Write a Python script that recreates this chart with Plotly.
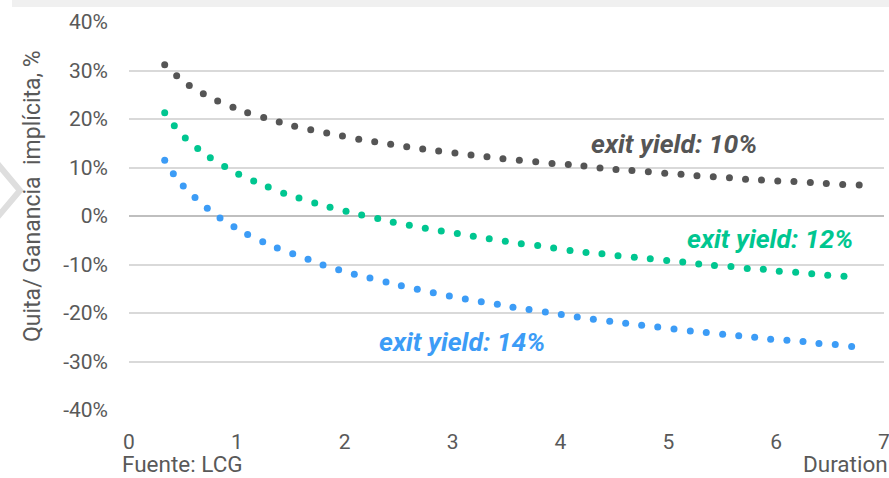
import plotly.graph_objects as go

# ---- data (duration in years, implicit gain/loss in %) ----
dur_10 = [0.331, 0.442, 0.559, 0.689, 0.822, 0.964, 1.100, 1.249, 1.393, 1.536, 1.685, 1.833, 1.979,
          2.130, 2.278, 2.426, 2.575, 2.723, 2.871, 3.022, 3.171, 3.319, 3.467, 3.619, 3.771, 3.922,
          4.073, 4.218, 4.367, 4.515, 4.663, 4.815, 4.967, 5.118, 5.266, 5.417, 5.567, 5.716, 5.864,
          6.015, 6.165, 6.317, 6.465, 6.617, 6.770]
gain_10 = [31.2, 28.9, 26.9, 25.2, 23.7, 22.4, 21.3, 20.3, 19.4, 18.5, 17.8, 17.1, 16.5, 15.8, 15.3,
           14.8, 14.3, 13.8, 13.4, 13.0, 12.6, 12.2, 11.8, 11.5, 11.2, 10.8, 10.6, 10.3, 9.9, 9.6,
           9.4, 9.1, 8.8, 8.6, 8.3, 8.1, 7.9, 7.6, 7.4, 7.2, 7.1, 6.9, 6.7, 6.5, 6.4]

dur_12 = [0.331, 0.420, 0.522, 0.637, 0.754, 0.887, 1.017, 1.156, 1.291, 1.434, 1.576, 1.722, 1.864,
          2.012, 2.157, 2.306, 2.450, 2.599, 2.747, 2.895, 3.044, 3.192, 3.340, 3.489, 3.637, 3.789,
          3.937, 4.089, 4.237, 4.385, 4.534, 4.685, 4.833, 4.985, 5.134, 5.282, 5.428, 5.581, 5.732,
          5.881, 6.029, 6.181, 6.330, 6.478, 6.629]
gain_12 = [21.3, 18.6, 16.1, 13.9, 12.0, 10.2, 8.6, 7.2, 6.0, 4.7, 3.7, 2.7, 1.8, 1.0, 0.2, -0.5,
           -1.3, -1.9, -2.5, -3.1, -3.6, -4.2, -4.7, -5.2, -5.7, -6.1, -6.6, -7.1, -7.5, -7.8, -8.2,
           -8.5, -8.8, -9.2, -9.5, -9.9, -10.2, -10.4, -10.8, -11.0, -11.4, -11.6, -11.9, -12.2, -12.4]

dur_14 = [0.331, 0.411, 0.503, 0.612, 0.726, 0.844, 0.973, 1.100, 1.240, 1.375, 1.518, 1.660, 1.799,
          1.944, 2.089, 2.234, 2.383, 2.525, 2.673, 2.821, 2.970, 3.118, 3.266, 3.415, 3.560, 3.709,
          3.860, 4.008, 4.156, 4.305, 4.457, 4.605, 4.753, 4.902, 5.053, 5.204, 5.352, 5.504, 5.653,
          5.801, 5.949, 6.100, 6.249, 6.397, 6.548, 6.700]
gain_14 = [11.5, 8.7, 6.2, 3.8, 1.6, -0.4, -2.2, -3.8, -5.3, -6.6, -7.8, -8.9, -10.1, -11.1, -12.0,
           -12.8, -13.6, -14.4, -15.1, -15.8, -16.5, -17.1, -17.7, -18.2, -18.8, -19.3, -19.8, -20.3,
           -20.8, -21.3, -21.7, -22.1, -22.5, -22.9, -23.3, -23.7, -24.0, -24.4, -24.7, -25.0, -25.4,
           -25.6, -25.9, -26.3, -26.5, -26.9]

series_names = ["exit yield: 10%", "exit yield: 12%", "exit yield: 14%"]
y_tick_vals = [-40, -30, -20, -10, 0, 10, 20, 30, 40]
y_tick_text = ["-40%", "-30%", "-20%", "-10%", "0%", "10%", "20%", "30%", "40%"]
x_tick_vals = [0, 1, 2, 3, 4, 5, 6, 7]
x_tick_text = ["0", "1", "2", "3", "4", "5", "6", "7"]
y_title = "Quita/ Ganancia\u00a0 implícita, %"
source_text = "Fuente: LCG"
x_title = "Duration"

# label anchor positions (data coords)
label_pos = [(5.057, 15.0), (5.94, -4.65), (3.086, -25.9)]

# ---- style ----
colors = ["#555555", "#00C690", "#3C9CF6"]
FONT = "Roboto"
TXT = "#595959"

W, H = 889, 478
ML, MR, MT, MB = 129, 5, 22, 68
pw, ph = W - ML - MR, H - MT - MB

def px_x(px):
    return (px - ML) / pw

def px_y(py):
    return (H - MB - py) / ph

fig = go.Figure()
for xs, ys, c, n in zip([dur_10, dur_12, dur_14], [gain_10, gain_12, gain_14], colors, series_names):
    fig.add_trace(go.Scatter(x=xs, y=ys, mode="markers", name=n,
                             marker=dict(size=7, color=c, line=dict(width=0)),
                             cliponaxis=False, showlegend=False))

for (lx, ly), n, c in zip(label_pos, series_names, colors):
    fig.add_annotation(x=lx, y=ly, xref="x", yref="y", text="<b><i>" + n + "</i></b>",
                       showarrow=False, xanchor="center", yanchor="middle",
                       font=dict(family=FONT, size=26.5, color=c))

fig.add_annotation(x=px_x(33), y=px_y(196), xref="paper", yref="paper", text=y_title,
                   textangle=-90, showarrow=False, xanchor="center", yanchor="middle",
                   font=dict(family=FONT, size=23, color=TXT))
fig.add_annotation(x=px_x(121), y=px_y(477.5), xref="paper", yref="paper", text=source_text,
                   showarrow=False, xanchor="left", yanchor="bottom", borderpad=0,
                   font=dict(family=FONT, size=22.5, color=TXT))
fig.add_annotation(x=px_x(888.5), y=px_y(477.5), xref="paper", yref="paper", text=x_title,
                   showarrow=False, xanchor="right", yanchor="bottom", borderpad=0,
                   font=dict(family=FONT, size=22.5, color=TXT))

# page decorations: top grey band and left chevron
fig.add_shape(type="rect", xref="paper", yref="paper", x0=px_x(12), x1=px_x(889),
              y0=px_y(7), y1=px_y(0), fillcolor="#F0F0F0", line=dict(width=0), layer="below")
fig.add_shape(type="path", xref="paper", yref="paper",
              path="M {:.4f},{:.4f} L {:.4f},{:.4f} L {:.4f},{:.4f}".format(
                  px_x(-4), px_y(162), px_x(20), px_y(190.5), px_x(-4), px_y(219)),
              line=dict(color="#DEDEDE", width=6))

fig.update_layout(
    width=W, height=H, autosize=False,
    margin=dict(l=ML, r=MR, t=MT, b=MB, pad=0, autoexpand=False),
    paper_bgcolor="white", plot_bgcolor="white",
    font=dict(family=FONT, color=TXT, size=21),
    showlegend=False,
)
fig.update_xaxes(range=[0, 7], tickvals=x_tick_vals, ticktext=x_tick_text, showgrid=False,
                 zeroline=False, showline=False, ticks="", ticklabelstandoff=17,
                 ticklabeloverflow="allow", automargin=False,
                 tickfont=dict(family=FONT, size=21, color=TXT), fixedrange=True)
fig.update_yaxes(range=[-40, 40], tickvals=y_tick_vals, ticktext=y_tick_text, showgrid=True,
                 gridcolor="#D9D9D9", gridwidth=1.5, zeroline=True, zerolinecolor="#BFBFBF",
                 zerolinewidth=1.5, showline=False, ticks="", ticklabelstandoff=20,
                 automargin=False,
                 tickfont=dict(family=FONT, size=21, color=TXT), fixedrange=True)

fig.write_html("out.html")
